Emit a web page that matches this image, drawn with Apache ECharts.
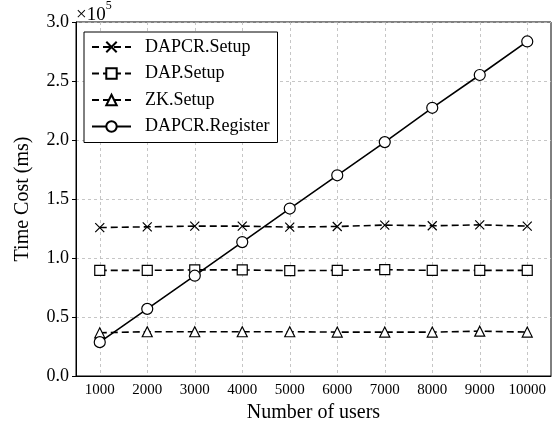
<!DOCTYPE html>
<html>
<head>
<meta charset="utf-8">
<script src="https://cdn.jsdelivr.net/npm/echarts@6/dist/echarts.min.js"></script>
<style>
  html, body { margin: 0; padding: 0; background: #fff; }
  #chart { width: 560px; height: 430px; }
</style>
</head>
<body>
<div id="chart"></div>
<script>
const users = ['1000', '2000', '3000', '4000', '5000', '6000', '7000', '8000', '9000', '10000'];
// values in units of 1e5 ms
const dapcrSetup = [1.258, 1.264, 1.270, 1.270, 1.262, 1.267, 1.279, 1.273, 1.281, 1.270];
const dapSetup = [0.895, 0.895, 0.899, 0.899, 0.893, 0.895, 0.901, 0.895, 0.895, 0.895];
const zkSetup = [0.366, 0.375, 0.375, 0.375, 0.375, 0.372, 0.372, 0.372, 0.380, 0.372];
const dapcrRegister = [0.287, 0.569, 0.850, 1.135, 1.419, 1.701, 1.982, 2.273, 2.551, 2.835];

const serif = '"Liberation Serif", "DejaVu Serif", serif';
const crossPath = 'path://M0,0L10,10M10,0L0,10';

// helper scale with half-category steps, so vertical grid lines sit on the category centres
const halfSteps = [];
for (let i = 0; i <= users.length * 2; i++) halfSteps.push(String(i));

const chart = echarts.init(document.getElementById('chart'));

function lineSeries(name, data, symbol, size, dashed) {
    return {
        name: name,
        type: 'line',
        data: data,
        xAxisIndex: 0,
        symbol: symbol,
        symbolSize: size,
        showAllSymbol: true,
        lineStyle: { color: '#000', width: 1.6, type: dashed ? [7, 4] : 'solid' },
        itemStyle: { color: '#fff', borderColor: '#000', borderWidth: 1.2 },
        emphasis: { disabled: true },
        z: 3
    };
}

const option = {
    animation: false,
    textStyle: { fontFamily: serif },
    grid: {
        left: 76, right: 9, top: 22, bottom: 54,
        show: true, borderColor: '#000', borderWidth: 1, backgroundColor: 'transparent'
    },
    legend: {
        orient: 'vertical',
        left: 84,
        top: 32,
        padding: [6, 8, 7, 7],
        itemWidth: 39,
        itemHeight: 13,
        itemGap: 8.5,
        borderColor: '#000',
        borderWidth: 1,
        borderRadius: 0,
        backgroundColor: '#fff',
        textStyle: { fontSize: 18, color: '#000', fontFamily: serif, padding: [0, 0, 0, 9] },
        data: ['DAPCR.Setup', 'DAP.Setup', 'ZK.Setup', 'DAPCR.Register']
    },
    xAxis: [
        {
            type: 'category',
            data: users,
            boundaryGap: true,
            name: 'Number of users',
            nameLocation: 'middle',
            nameGap: 27,
            nameTextStyle: { fontSize: 20, color: '#000', fontFamily: serif },
            axisLine: { lineStyle: { color: '#000', width: 1 } },
            axisTick: { alignWithLabel: true, length: 4, lineStyle: { color: '#000' } },
            axisLabel: { fontSize: 15, color: '#000', margin: 7, fontFamily: serif, interval: 0 },
            splitLine: { show: false }
        },
        {
            type: 'category',
            data: halfSteps,
            boundaryGap: false,
            position: 'top',
            axisLine: { show: false },
            axisLabel: { show: false },
            axisTick: { show: false },
            splitLine: {
                show: true,
                interval: (index) => index % 2 === 1,
                lineStyle: { color: '#b8b8b8', width: 0.8, type: [3, 3] }
            }
        }
    ],
    yAxis: {
        type: 'value',
        min: 0,
        max: 3,
        interval: 0.5,
        name: 'Time Cost (ms)',
        nameLocation: 'middle',
        nameGap: 43,
        nameTextStyle: { fontSize: 20, color: '#000', fontFamily: serif },
        axisLine: { show: true, lineStyle: { color: '#000', width: 1 } },
        axisTick: { show: true, length: 4, lineStyle: { color: '#000' } },
        axisLabel: {
            fontSize: 18, color: '#000', margin: 7, fontFamily: serif,
            formatter: v => v.toFixed(1)
        },
        splitLine: { show: true, lineStyle: { color: '#b8b8b8', width: 0.8, type: [3, 3] } }
    },
    graphic: [
        {
            type: 'text',
            left: 76,
            top: 0,
            style: {
                text: '{b|×10}{s|5}',
                rich: {
                    b: { fontSize: 19, fontFamily: serif, fill: '#000', padding: [6, 0, 0, 0] },
                    s: { fontSize: 12, fontFamily: serif, fill: '#000', verticalAlign: 'top', padding: [0, 0, 12, 0] }
                }
            }
        }
    ],
    series: [
        lineSeries('DAPCR.Setup', dapcrSetup, crossPath, 9, true),
        lineSeries('DAP.Setup', dapSetup, 'rect', 10, true),
        lineSeries('ZK.Setup', zkSetup, 'triangle', 10, true),
        lineSeries('DAPCR.Register', dapcrRegister, 'circle', 11, false)
    ]
};

chart.setOption(option);
</script>
</body>
</html>
